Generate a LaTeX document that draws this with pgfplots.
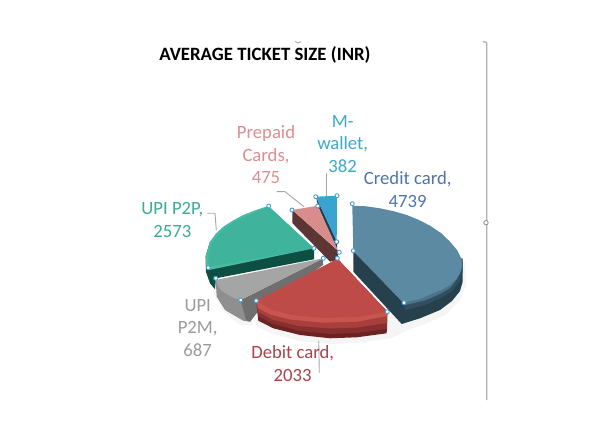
\documentclass[border=0pt]{standalone}
\usepackage{fontspec}
\setmainfont{Carlito}
\usepackage{pgfplots}
\pgfplotsset{compat=1.18}
\definecolor{tcredit}{HTML}{4F75A8}
\definecolor{tdebit}{HTML}{A8434A}
\definecolor{tgray}{HTML}{9C9C9C}
\definecolor{tteal}{HTML}{3CAB96}
\definecolor{tpink}{HTML}{DC8E92}
\definecolor{twallet}{HTML}{3FA9C9}
\definecolor{leader}{HTML}{A6A6A6}
\definecolor{handle}{HTML}{4A9BD4}
\definecolor{walletface}{HTML}{3BA3CF}
\definecolor{walletside}{HTML}{1F3F50}
\definecolor{prepface}{HTML}{D98C8C}
\definecolor{prepside}{HTML}{5B3634}
\definecolor{p2pside}{HTML}{0E4F44}
\definecolor{p2prim}{HTML}{48BBA3}
\definecolor{p2pface}{HTML}{3FB39C}
\definecolor{p2mrim}{HTML}{8F8F8F}
\definecolor{p2mside}{HTML}{6F6F6F}
\definecolor{p2mface}{HTML}{A5A5A5}
\definecolor{credside}{HTML}{26404D}
\definecolor{credmid}{HTML}{324F5F}
\definecolor{credrim}{HTML}{4B7488}
\definecolor{credface}{HTML}{5C8AA3}
\definecolor{debside}{HTML}{6A2320}
\definecolor{debmid}{HTML}{862F2E}
\definecolor{debmidb}{HTML}{A83F3D}
\definecolor{debrim}{HTML}{C9554F}
\definecolor{debface}{HTML}{BE4B48}
% pie shapes are given in picture pixels, y downwards
\newcommand{\poly}[2]{\addplot[fill=#1,draw=none] coordinates {#2} --cycle;}
\newcommand{\leaderline}[1]{\addplot[leader,line width=0.9pt] coordinates {#1};}
\begin{document}
\begin{tikzpicture}
\fill[white] (0,0) rectangle (600pt,441pt);
\begin{axis}[
    at={(0,0)},anchor=south west,
    scale only axis,
    width=600pt,height=441pt,
    xmin=0,xmax=600,ymin=0,ymax=441,
    y dir=reverse,
    axis lines=none,
    line join=round,
]
% soft shadow
\poly{black!4}{(252,315)(256,326)(273,334)(300,341)(330,344)(357,343)(392,338)(405,331)(425,324)(445,315)(460,300)(466,285)(465,262)(400,290)}
\poly{black!4}{(213,290)(222,310)(240,325)(252,325)(250,300)}

% M-wallet
\poly{walletside}{(316,196.7)(337,241.7)(337,250)(318,206)}
\poly{walletface}{(316,196.7)(337,195.7)(336.7,241.7)}

% Prepaid cards
\poly{prepside}{(292.3,210)(292.3,223)(330,261.7)(336.7,260)(339,251.7)}
\poly{prepface}{(292.3,210)(317.7,205.7)(338,250.5)}

% UPI P2P
\poly{p2pside}{(314,248.3)(314,259.3)(216,278.3)(215,289.3)(210,283.3)(206,272)(205.7,256)(210,241.7)}
\poly{p2prim}{(268.3,206)(314,248.3)(209,270)(205.7,266)(205.5,256.7)(210,241.7)(216,233.5)(223.3,226.7)(233,220.5)(243.3,215)(256,210)}
\poly{p2pface}{(268.3,206)(314,248.3)(209,267)(208,256.7)(212,243)(218,235)(225,228.5)(234,222)(244,217)(256,212)}

% UPI P2M
\poly{p2mrim}{(215.7,280)(216.7,296.7)(225,310)(236,316.5)(243.3,320.7)(250,321.7)(256.7,313)(241,300)}
\poly{p2mside}{(323.3,258.3)(323,265)(256.7,313)(250,321.7)(246,320)(240.7,300)}
\poly{p2mface}{(323.3,258.3)(215.7,280)(218.3,286.7)(222,291)(228.3,295)(234,298)(240.7,300)}

% Credit card
\poly{credside}{(353.3,251)(353.3,271.7)(401.7,324)(420,318.3)(440,310)(452,301)(460,291)(462.7,281.7)(462.7,258.3)(403,280)}
\poly{credmid}{(353.3,251)(403.3,302.7)(405,310)(425,305)(441,298)(452,291)(459,282)(462.7,272)(462.7,262)(461,258)(400,240)}
\poly{credrim}{(353.3,251)(403.3,302.7)(405,305)(425,300.5)(440,294)(450,288)(457,279)(461.5,270)(462.4,262)(461,258)(400,240)}
\poly{credface}{(352.3,205.7)(366,206.3)(380,208.3)(394,211.3)(406.7,215)(419,220)(430,225.7)(441,233)(450,241.7)(457,250)(461,258)(462,265)(460,273)(456,279)(450,285)(442,289.5)(433,293.3)(420,299)(403.3,302.7)(353.3,251)}

% Debit card
\poly{debside}{(256.7,305)(258.3,320.7)(273.3,328.3)(300,335)(330,338.3)(356.7,337.3)(386.7,333.3)(387.3,311.7)(337.7,259)}
\poly{debmid}{(256.7,303)(258,316)(273,324)(300,331)(330,334)(357,333)(387,329)(387.3,311.7)(337.7,259)}
\poly{debmidb}{(256.7,303)(258,312)(272,319.5)(298,326)(330,328.5)(357,327.5)(387,323)(387.3,311.7)(337.7,259)}
\poly{debrim}{(256.7,300.7)(258,308)(270,314.5)(290,319.5)(323,322.7)(357,321.7)(387.3,316)(387.3,311.7)(337.7,259)}
\poly{debface}{(337.7,259)(387.3,311.7)(357,317)(323,318)(292,315)(272,310)(256.7,300.7)}
\addplot[white,line width=0.6pt] coordinates {(338.5,258.5)(388,311)};

% leader lines
\leaderline{(207.3,213.3)(215,213.3)(216.3,230)}
\leaderline{(276.7,191.7)(285,191.7)(304,206.7)}
\leaderline{(326,173.3)(326,195.7)}
\leaderline{(318.7,340.7)(319.3,372.7)}

% chart frame remains
\addplot[black!30,line width=1.3pt] coordinates {(483,41.7)(486.7,42.5)(486.7,400)};
\addplot[black!35,line width=0.8pt] coordinates {(295,41.5)(298,43)(301,41.5)};
\addplot[only marks,mark=*,mark size=2.2pt,mark options={fill=white,draw=black!45,line width=0.8pt}] coordinates {(486,222.7)};
\addplot[black!30,line width=1.3pt] coordinates {(486.7,219)(486.7,226)};

% selection handles
\addplot[only marks,mark=*,mark size=2pt,mark options={fill=white,draw=handle,line width=0.9pt}] coordinates {
(315.7,196.7)(337,195.7)(352.3,203.7)(317.7,206)(292,210)(268.7,206)
(336.7,241.7)(339.3,252.3)(353.3,250.7)(314,248.3)(323.3,258.3)(337.3,258.3)
(208.3,267.7)(215.7,278.3)(240.7,300)(256.3,300.7)(404,302.7)(387.3,311.7)};

% labels
\node[font=\fontsize{18.8}{22}\selectfont\bfseries,text=black] at (axis cs:265,55) {AVERAGE TICKET SIZE (INR)};
\tikzset{lab/.style={align=center,font=\fontsize{18.7}{22.5}\selectfont,inner sep=0pt}}
\node[lab,text=tpink] at (axis cs:266,155) {Prepaid\\Cards,\\475};
\node[lab,text=twallet] at (axis cs:342.7,144) {M-\\wallet,\\382};
\node[lab,text=tcredit] at (axis cs:407.7,189.5) {Credit card,\\4739};
\node[lab,text=tteal] at (axis cs:172.3,220) {UPI P2P,\\2573};
\node[lab,text=tgray] at (axis cs:197.7,327.7) {UPI\\P2M,\\687};
\node[lab,text=tdebit] at (axis cs:292.7,363.5) {Debit card,\\2033};
\end{axis}
\end{tikzpicture}
\end{document}
